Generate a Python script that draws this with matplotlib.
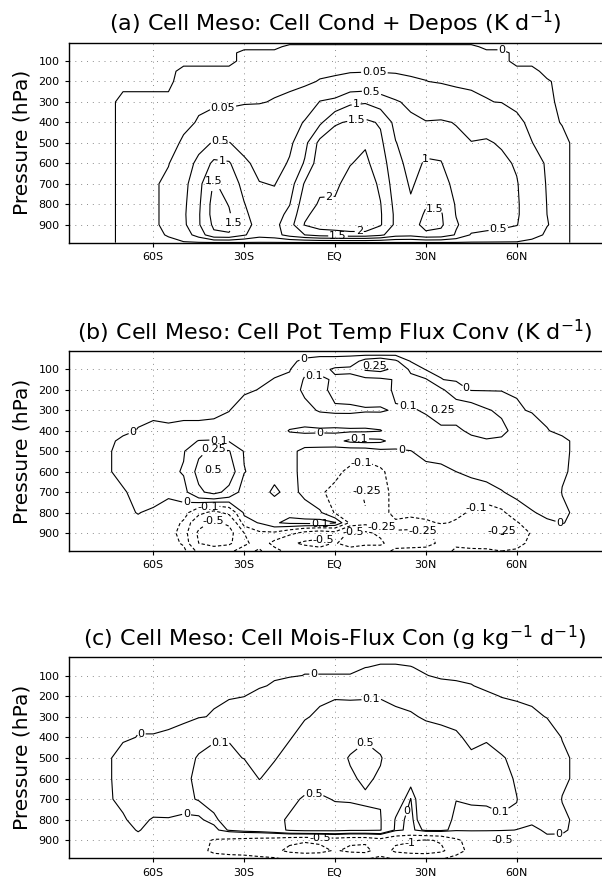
import numpy as np
import matplotlib.pyplot as plt

plt.rcParams['font.family'] = ['DejaVu Sans']
plt.rcParams['lines.dashed_pattern'] = [3.0, 2.0]

# latitude of each profile and pressure levels (hPa), top to bottom
lats = np.arange(-80, 81, 5)
lev_a = [10, 30, 60, 100, 150, 200, 300, 400, 500, 600, 700, 800, 850, 900, 950, 988]
lev_b = [10, 30, 60, 100, 150, 200, 300, 400, 450, 500, 600, 700, 800, 850, 900, 950, 988]
lev_c = lev_a

lat_ticks = [-60, -30, 0, 30, 60]
lat_labels = ['60S', '30S', 'EQ', '30N', '60N']
p_ticks = [100, 200, 300, 400, 500, 600, 700, 800, 900]

# (a) cell condensation + deposition, K/day, one profile per latitude
cond_a = [
    [0] * 16,
    [0] * 16,
    [0, 0, 0, 0, 0, 0, .01, .01, .01, .01, .01, .01, .01, .01, .01, .01],
    [0, 0, 0, 0, 0, 0, .01, .01, .01, .01, .01, .01, .01, .01, .01, .01],
    [0, 0, 0, 0, 0, 0, .01, .01, .01, .015, .02, .02, .02, .02, .02, .01],
    [0, 0, 0, 0, 0, 0, .01, .015, .025, .04, .1, .1, .1, .1, .06, .02],
    [0, 0, 0, 0, .01, .015, .02, .035, .06, .2, .35, .4, .42, .4, .25, .02],
    [0, 0, 0, 0, .01, .02, .04, .055, .3, .65, .85, .92, .95, .95, .7, .02],
    [0, 0, 0, 0, .01, .02, .03, .1, .55, 1.1, 1.55, 1.7, 1.7, 1.6, 1.4, .02],
    [0, 0, 0, 0, .01, .02, .035, .09, .52, 1.05, 1.3, 1.48, 1.55, 1.65, 1.45, .02],
    [0, 0, .01, .01, .015, .02, .04, .12, .3, .6, .85, 1.02, 1.1, 1.2, 1.05, .02],
    [0, 0, .01, .01, .015, .025, .045, .1, .2, .35, .52, .7, .75, .8, .7, .02],
    [0, 0, .01, .015, .02, .03, .055, .12, .2, .3, .48, .65, .75, .85, .8, .02],
    [0, .01, .01, .015, .02, .03, .07, .2, .4, .55, .75, .98, 1.15, 1.3, 1.2, .02],
    [0, .01, .01, .02, .03, .035, .1, .55, .85, 1.05, 1.55, 1.8, 1.9, 2.03, 1.5, .02],
    [0, .01, .015, .025, .035, .055, .52, .9, 1.65, 1.8, 1.9, 2.05, 2.2, 2.25, 1.7, .02],
    [0, .01, .015, .025, .035, .07, .6, 1.45, 1.75, 1.85, 1.92, 2.05, 2.25, 2.3, 1.75, .02],
    [0, .01, .02, .03, .045, .08, .9, 1.55, 1.9, 1.98, 2.15, 2.3, 2.35, 2.4, 1.8, .02],
    [0, .01, .02, .03, .045, .1, .95, 1.6, 1.95, 2.1, 2.3, 2.4, 2.4, 2.4, 1.8, .02],
    [0, .01, .02, .03, .045, .09, .75, 1.45, 1.6, 1.75, 1.9, 2.02, 2.05, 2.05, 1.6, .02],
    [0, .01, .02, .03, .045, .07, .55, .85, 1.02, 1.15, 1.25, 1.35, 1.4, 1.4, 1.2, .02],
    [0, .01, .02, .025, .04, .06, .4, .6, .75, .85, .95, 1.05, 1.15, 1.3, 1.15, .02],
    [0, .01, .02, .025, .035, .052, .25, .52, .85, 1.05, 1.15, 1.45, 1.58, 1.65, 1.4, .02],
    [0, .01, .015, .02, .03, .04, .15, .55, .85, 1.02, 1.2, 1.45, 1.55, 1.58, 1.35, .02],
    [0, .01, .015, .02, .025, .035, .09, .48, .6, .75, .85, .95, .98, 1.05, .95, .02],
    [0, .01, .015, .02, .025, .035, .07, .25, .52, .65, .7, .75, .78, .75, .45, .02],
    [0, 0, .01, .015, .02, .03, .055, .3, .55, .65, .7, .75, .75, .65, .4, .02],
    [0, 0, .01, .01, .015, .025, .045, .2, .45, .6, .65, .65, .65, .6, .35, .02],
    [0, 0, 0, 0, .01, .015, .03, .07, .3, .45, .53, .55, .55, .52, .3, .02],
    [0, 0, 0, 0, .01, .012, .02, .03, .052, .15, .2, .25, .25, .2, .1, .01],
    [0, 0, 0, 0, 0, .007, .01, .01, .015, .025, .035, .045, .05, .055, .03, .01],
    [0, 0, 0, 0, 0, 0, 0, .004, .01, .01, .01, .01, .01, .01, .01, .01],
    [0] * 16,
]

# (b) cell potential temperature flux convergence, K/day
theta_b = [
    [0] * 17,
    [0] * 17,
    [0, 0, 0, 0, 0, 0, 0, 0, .01, .02, .02, 0, 0, 0, 0, 0, 0],
    [0, 0, 0, 0, 0, 0, 0, .006, .02, .03, .03, .02, .006, 0, 0, 0, 0],
    [0, 0, 0, 0, 0, 0, 0, .01, .03, .04, .05, .02, 0, 0, 0, 0, 0],
    [0, 0, 0, 0, 0, 0, 0, .008, .03, .05, .07, .012, -.01, -.03, -.05, -.04, -.02],
    [0, 0, 0, 0, 0, 0, 0, .01, .05, .09, .11, .06, -.05, -.12, -.15, -.12, -.06],
    [0, 0, 0, 0, 0, 0, 0, .01, .105, .22, .3, .22, -.2, -.4, -.55, -.5, -.3],
    [0, 0, 0, 0, 0, 0, 0, .012, .11, .28, .52, .3, -.3, -.55, -.7, -.6, -.35],
    [0, 0, 0, 0, 0, 0, .004, .02, .09, .26, .35, .2, -.2, -.45, -.6, -.55, -.3],
    [0, 0, 0, 0, 0, 0, .02, .04, .06, .09, .105, .04, .02, -.03, -.25, -.3, -.15],
    [0, 0, 0, 0, 0, .006, .03, .05, .05, .06, .06, .05, .04, .01, -.12, -.15, -.08],
    [0, 0, 0, 0, .006, .02, .04, .05, .05, .06, .04, -.015, .08, .09, -.12, -.3, -.2],
    [0, 0, 0, 0, .02, .05, .08, 0, .04, .03, .03, .04, .08, .12, -.2, -.45, -.3],
    [0, 0, .01, .08, .11, .12, .07, -.01, .05, -.02, -.02, -.02, .05, .13, -.3, -.55, -.35],
    [0, 0, .02, .06, .13, .14, .11, -.01, .06, -.03, -.06, -.09, .02, .14, -.35, -.6, -.4],
    [0, 0, .02, .12, .08, .06, .12, -.015, .07, -.04, -.08, -.12, -.11, .11, -.3, -.48, -.35],
    [0, 0, .03, .13, .06, .05, .12, -.01, .12, -.05, -.12, -.18, -.2, -.12, -.55, -.6, -.4],
    [0, 0, .15, .27, .06, .04, .11, -.01, .13, -.05, -.15, -.27, -.24, -.18, -.55, -.55, -.35],
    [0, 0, .2, .3, .07, .05, .11, 0, .12, -.02, -.12, -.15, -.15, -.11, -.45, -.55, -.35],
    [0, 0, .12, .2, .11, .12, .09, .06, .06, -.01, -.05, -.06, -.06, -.12, -.3, -.35, -.2],
    [0, 0, 0, .08, .13, .14, .09, .05, .04, .003, -.04, -.05, -.06, -.15, -.3, -.32, -.2],
    [0, 0, 0, 0, .11, .15, .11, .06, .05, .03, -.02, -.05, -.06, -.12, -.28, -.3, -.2],
    [0, 0, 0, 0, .006, .12, .26, .04, .04, .03, -.01, -.04, -.07, -.09, -.2, -.22, -.15],
    [0, 0, 0, 0, 0, .03, .18, .07, .05, .04, .005, -.04, -.08, -.11, -.15, -.12, -.08],
    [0, 0, 0, 0, 0, 0, .16, .13, .06, .05, .02, -.03, -.11, -.13, -.18, -.14, -.08],
    [0, 0, 0, 0, 0, 0, .11, .14, .09, .06, .04, -.03, -.15, -.16, -.22, -.15, -.08],
    [0, 0, 0, 0, 0, 0, .08, .13, .08, .07, .05, 0, -.12, -.15, -.27, -.18, -.1],
    [0, 0, 0, 0, 0, 0, .012, .06, .06, .05, .05, .03, -.04, -.11, -.22, -.15, -.08],
    [0, 0, 0, 0, 0, 0, 0, .04, .04, .04, .04, .04, 0, -.04, -.08, -.06, -.03],
    [0, 0, 0, 0, 0, 0, 0, .006, .03, .03, .03, .03, .02, -.005, -.04, -.03, -.02],
    [0, 0, 0, 0, 0, 0, 0, 0, .01, .01, .008, .004, .01, .006, 0, 0, 0],
    [0] * 17,
]

# (c) cell moisture flux convergence, g/kg/day
mois_c = [
    [0] * 16,
    [0] * 16,
    [0, 0, 0, 0, 0, 0, 0, 0, .02, .02, .015, 0, 0, 0, 0, 0],
    [0, 0, 0, 0, 0, 0, 0, .006, .03, .04, .03, .02, .006, 0, 0, 0],
    [0, 0, 0, 0, 0, 0, 0, .006, .04, .05, .04, 0, 0, 0, 0, 0],
    [0, 0, 0, 0, 0, 0, 0, .008, .05, .06, .05, 0, 0, 0, 0, 0],
    [0, 0, 0, 0, 0, 0, 0, .015, .06, .08, .07, -.02, -.05, -.1, -.1, -.05],
    [0, 0, 0, 0, 0, 0, .002, .06, .11, .12, .11, -.02, -.08, -.3, -.35, -.2],
    [0, 0, 0, 0, 0, 0, .008, .08, .15, .2, .18, .06, -.05, -.55, -.6, -.3],
    [0, 0, 0, 0, 0, 0, .03, .09, .13, .2, .25, .2, .12, -.6, -.65, -.35],
    [0, 0, 0, 0, 0, .004, .04, .07, .095, .2, .3, .3, .2, -.65, -.7, -.35],
    [0, 0, 0, 0, 0, .02, .05, .07, .08, .095, .2, .3, .25, -.7, -.8, -.4],
    [0, 0, 0, 0, .01, .03, .06, .08, .09, .15, .3, .4, .35, -.75, -.9, -.45],
    [0, 0, 0, 0, .03, .05, .08, .09, .15, .2, .4, .55, .55, -.9, -1.1, -.6],
    [0, 0, 0, .006, .03, .06, .09, .15, .2, .3, .55, .7, .6, -.95, -1.2, -.6],
    [0, 0, 0, .006, .05, .08, .12, .2, .28, .35, .55, .7, .6, -.9, -1.15, -.6],
    [0, 0, 0, .006, .06, .09, .15, .25, .35, .4, .48, .65, .6, -.8, -.95, -.5],
    [0, 0, 0, .006, .07, .08, .18, .35, .53, .45, .48, .6, .55, -.9, -1.1, -.55],
    [0, 0, .004, .03, .08, .08, .2, .45, .65, .56, .45, .6, .55, -.9, -1.15, -.55],
    [0, 0, .01, .04, .08, .09, .16, .35, .53, .45, .48, .52, .52, -.7, -.75, -.4],
    [0, 0, .01, .04, .07, .08, .12, .2, .25, .3, .25, .08, .06, -.9, -1.1, -.55],
    [0, 0, .006, .02, .05, .07, .11, .14, .17, .17, 0, -.05, -.05, -.95, -1.2, -.6],
    [0, 0, 0, .006, .03, .06, .09, .14, .2, .25, .3, .3, .15, -1.05, -1.25, -.6],
    [0, 0, 0, 0, .015, .04, .08, .13, .18, .2, .25, .22, .15, -.95, -1.1, -.55],
    [0, 0, 0, 0, .01, .03, .06, .12, .14, .15, .105, .05, .04, -.6, -.7, -.35],
    [0, 0, 0, 0, .006, .02, .04, .07, .12, .14, .12, .05, .03, -.3, -.35, -.2],
    [0, 0, 0, 0, 0, .01, .03, .09, .13, .14, .12, .06, .02, -.2, -.25, -.12],
    [0, 0, 0, 0, 0, .004, .02, .05, .11, .13, .12, .09, .03, -.52, -.2, -.1],
    [0, 0, 0, 0, 0, 0, .02, .05, .07, .09, .102, .09, 0, -.1, -.1, -.05],
    [0, 0, 0, 0, 0, 0, .01, .03, .04, .05, .05, .02, -.01, -.05, -.05, -.02],
    [0, 0, 0, 0, 0, 0, .004, .02, .03, .03, .03, .03, .015, -.01, -.02, -.01],
    [0, 0, 0, 0, 0, 0, 0, .004, .01, .01, .004, .01, .008, 0, 0, 0],
    [0] * 16,
]

# where the contour labels sit (lat, hPa)
spots_a = [(55, 50), (-37, 330), (13, 160), (-38, 477), (12, 258), (54, 932),
           (-37, 550), (7, 315), (28, 558), (-40, 672), (-32, 882), (7, 357),
           (1, 952), (33, 800), (-2, 754), (8, 942)]
spots_b = [(-10, 60), (-67, 397), (-49, 753), (-5, 406), (22, 492), (43, 199),
           (74, 860), (-38, 420), (-7, 137), (24, 280), (8, 445), (-5, 845),
           (-40, 495), (13, 85), (37, 300), (-40, 595), (-42, 770), (8, 525),
           (16, 840), (47, 788), (10, 700), (29, 890), (55, 885), (-40, 850),
           (-4, 945), (6, 905)]
spots_c = [(-7, 100), (-64, 395), (-49, 770), (24, 760), (74, 880), (-38, 432),
           (12, 222), (54, 783), (-7, 668), (10, 430), (-5, 885), (56, 900),
           (25, 930)]

# the zero line is traced just above zero so it follows the edge of the active region
panels = [
    (r'(a) Cell Meso: Cell Cond + Depos (K d$^{-1}$)', lev_a, cond_a,
     [0.005, 0.05, 0.5, 1, 1.5, 2],
     {0.005: '0', 0.05: '0.05', 0.5: '0.5', 1: '1', 1.5: '1.5', 2: '2'}, spots_a),
    (r'(b) Cell Meso: Cell Pot Temp Flux Conv (K d$^{-1}$)', lev_b, theta_b,
     [-0.5, -0.25, -0.1, 0.005, 0.1, 0.25, 0.5],
     {-0.5: '-0.5', -0.25: '-0.25', -0.1: '-0.1', 0.005: '0', 0.1: '0.1',
      0.25: '0.25', 0.5: '0.5'}, spots_b),
    (r'(c) Cell Meso: Cell Mois-Flux Con (g kg$^{-1}$ d$^{-1}$)', lev_c, mois_c,
     [-1, -0.5, 0.005, 0.1, 0.5],
     {-1: '-1', -0.5: '-0.5', 0.005: '0', 0.1: '0.1', 0.5: '0.5'}, spots_c),
]

fig = plt.figure(figsize=(6.02, 8.77), dpi=100)
bottoms = [0.7233, 0.3717, 0.0211]
heights = [0.2281, 0.2281, 0.2298]

for (title, lev, cols, levels, fmt, spots), b, h in zip(panels, bottoms, heights):
    ax = fig.add_axes([0.1138, b, 0.8854, h])
    ax.set_xlim(-88, 88)
    ax.set_ylim(988, 10)
    field = np.array(cols, dtype=float).T
    X, Y = np.meshgrid(lats, lev)
    styles = ['dashed' if v < 0 else 'solid' for v in levels]
    cs = ax.contour(X, Y, field, levels=levels, colors='black',
                    linewidths=0.8, linestyles=styles)
    labels = ax.clabel(cs, fmt=fmt, fontsize=8, inline=True, inline_spacing=1,
                       manual=spots)
    for t in labels:
        t.set_rotation(0)

    ax.set_xticks(lat_ticks)
    ax.set_xticklabels(lat_labels)
    ax.set_yticks(p_ticks)
    ax.tick_params(labelsize=8, length=3, width=0.8, direction='out')
    ax.grid(True, color='0.55', linestyle=(0, (1, 5)), linewidth=0.7)
    ax.set_axisbelow(True)
    ax.spines['right'].set_visible(False)
    for s in ['top', 'left', 'bottom']:
        ax.spines[s].set_linewidth(1.0)
    ax.set_title(title, fontsize=16, pad=8)
    ax.set_ylabel('Pressure (hPa)', fontsize=14.5)
    ax.yaxis.set_label_coords(-0.07, 0.5)

fig.savefig('out.png', dpi=100)
